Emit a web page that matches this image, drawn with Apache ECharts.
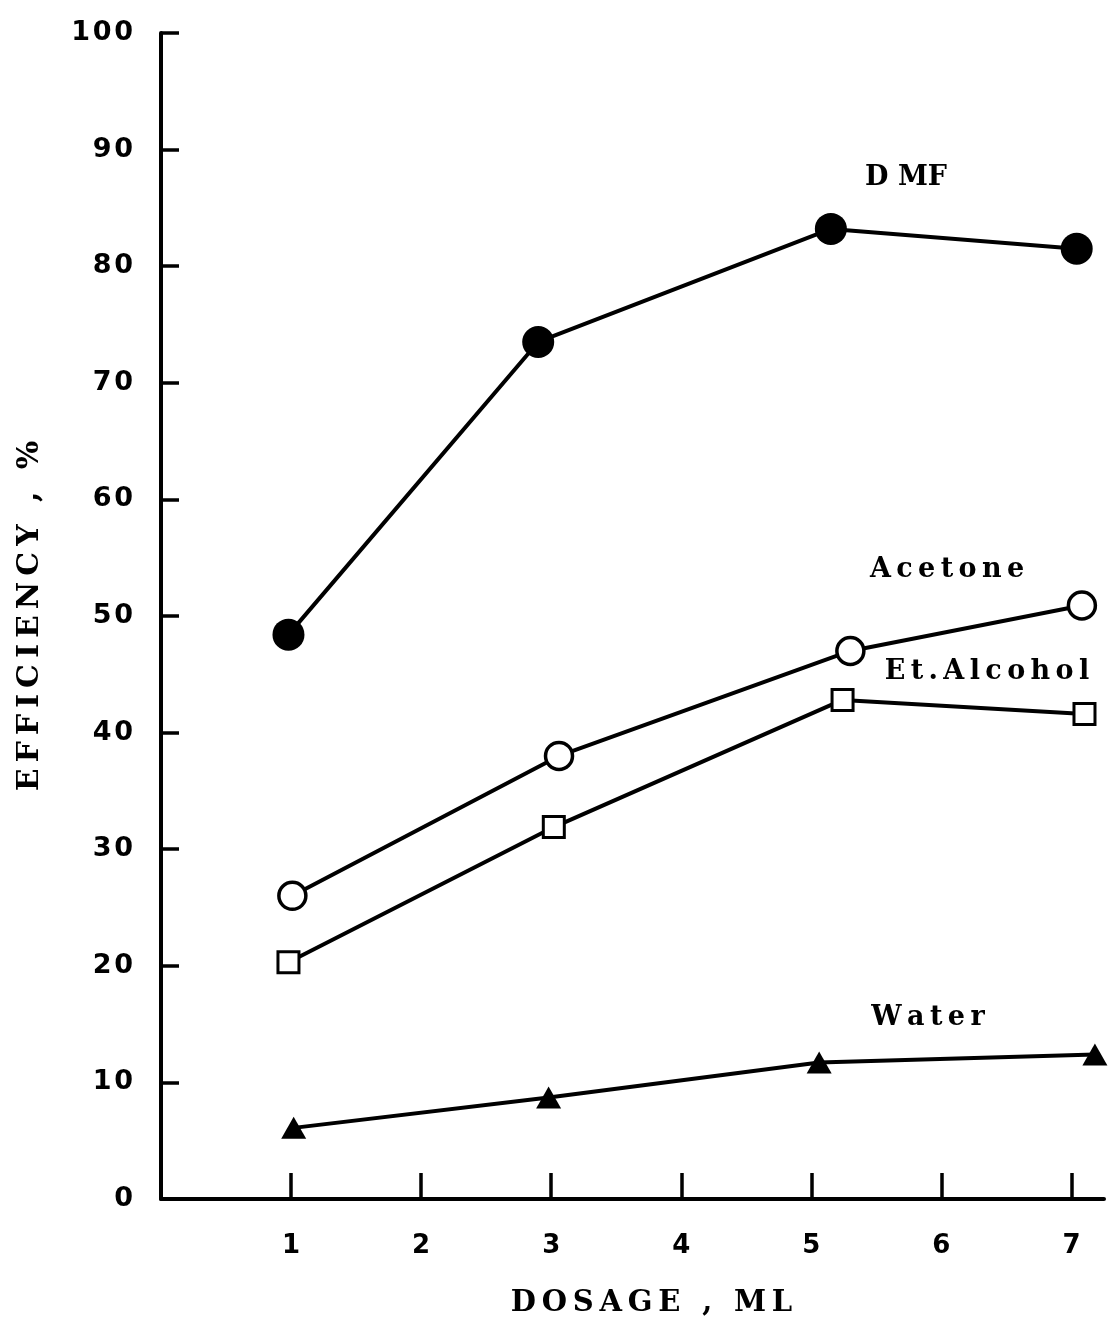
<!DOCTYPE html>
<html>
<head>
<meta charset="utf-8">
<script src="https://cdn.jsdelivr.net/npm/echarts@6/dist/echarts.min.js"></script>
<style>html,body{margin:0;padding:0;background:#fff;}#c{width:1109px;height:1320px;}</style>
</head>
<body>
<div id="c"></div>
<script>
// Data (x = dosage ML, y = efficiency %)
const dmfX = [0.98, 2.90, 5.15, 7.04];
const dmfY = [48.4, 73.5, 83.2, 81.5];
const acetoneX = [1.01, 3.06, 5.30, 7.08];
const acetoneY = [26.0, 38.0, 47.0, 50.9];
const alcoholX = [0.98, 3.02, 5.24, 7.10];
const alcoholY = [20.3, 31.9, 42.8, 41.6];
const waterX = [1.02, 2.98, 5.06, 7.18];
const waterY = [6.1, 8.7, 11.7, 12.4];
const xTicks = [1, 2, 3, 4, 5, 6, 7];
const yTicks = [0, 10, 20, 30, 40, 50, 60, 70, 80, 90, 100];
const seriesNames = ['D MF', 'Acetone', 'Et.Alcohol', 'Water'];
const xTitle = 'DOSAGE , ML';
const yTitle = 'EFFICIENCY , %';

const pairs = (xs, ys) => xs.map((x, i) => [x, ys[i]]);
const spaced = (s, g) => s.split('').join(g);
const serif = '"DejaVu Serif", "Liberation Serif", serif';
const sans = '"DejaVu Sans", "Liberation Sans", sans-serif';

const chart = echarts.init(document.getElementById('c'), null, {renderer: 'canvas'});
const lineStyle = {color: '#000', width: 4};
const labelText = (text, x, y) => ({type: 'text', x, y, z: 10,
  style: {text, fill: '#000', align: 'center', verticalAlign: 'middle', fontFamily: serif, fontSize: 27, fontWeight: 'bold'}});
chart.setOption({
  backgroundColor: '#fff',
  animation: false,
  grid: {left: 161, right: 5, top: 33, bottom: 121, containLabel: false, outerBoundsMode: 'none'},
  xAxis: {
    type: 'value', min: 0, max: 7.25, interval: 1,
    name: spaced(xTitle, '\u2009'), nameLocation: 'middle', nameGap: 90,
    nameTextStyle: {fontFamily: serif, fontSize: 29, fontWeight: 'bold', color: '#000', padding: [0, 0, 0, 38]},
    axisLine: {show: true, onZero: false, lineStyle: {color: '#000', width: 4}},
    axisTick: {show: true, inside: true, length: 26, lineStyle: {color: '#000', width: 3.5}, customValues: xTicks},
    axisLabel: {color: '#000', fontFamily: sans, fontWeight: 'bold', fontSize: 26, margin: 34, customValues: xTicks},
    splitLine: {show: false}
  },
  yAxis: {
    type: 'value', min: 0, max: 100, interval: 10,
    name: spaced(yTitle, '\u2009'), nameLocation: 'middle', nameGap: 116, nameRotate: 90,
    nameTextStyle: {fontFamily: serif, fontSize: 30, fontWeight: 'bold', color: '#000'},
    axisLine: {show: true, onZero: false, lineStyle: {color: '#000', width: 4}},
    axisTick: {show: true, inside: true, length: 18, lineStyle: {color: '#000', width: 3.5}, customValues: yTicks},
    axisLabel: {color: '#000', fontFamily: sans, fontWeight: 'bold', fontSize: 27, margin: 28,
      customValues: yTicks, formatter: v => spaced(String(v), '\u200A')},
    splitLine: {show: false}
  },
  series: [
    {name: seriesNames[0], type: 'line', data: pairs(dmfX, dmfY), symbol: 'circle', symbolSize: 32,
     lineStyle, itemStyle: {color: '#000'}, z: 3},
    {name: seriesNames[1], type: 'line', data: pairs(acetoneX, acetoneY), symbol: 'circle', symbolSize: 27,
     lineStyle, itemStyle: {color: '#fff', borderColor: '#000', borderWidth: 3.5}, z: 3},
    {name: seriesNames[2], type: 'line', data: pairs(alcoholX, alcoholY), symbol: 'rect', symbolSize: 21,
     lineStyle, itemStyle: {color: '#fff', borderColor: '#000', borderWidth: 3}, z: 3},
    {name: seriesNames[3], type: 'line', data: pairs(waterX, waterY), symbol: 'triangle', symbolSize: [25, 22],
     lineStyle, itemStyle: {color: '#000'}, z: 3}
  ],
  graphic: [
    labelText(seriesNames[0], 906, 178),
    labelText(spaced(seriesNames[1], '\u2009'), 947, 570),
    labelText(spaced(seriesNames[2], '\u2009'), 987, 672),
    labelText(spaced(seriesNames[3], '\u2009'), 928, 1018)
  ]
});
</script>
</body>
</html>
